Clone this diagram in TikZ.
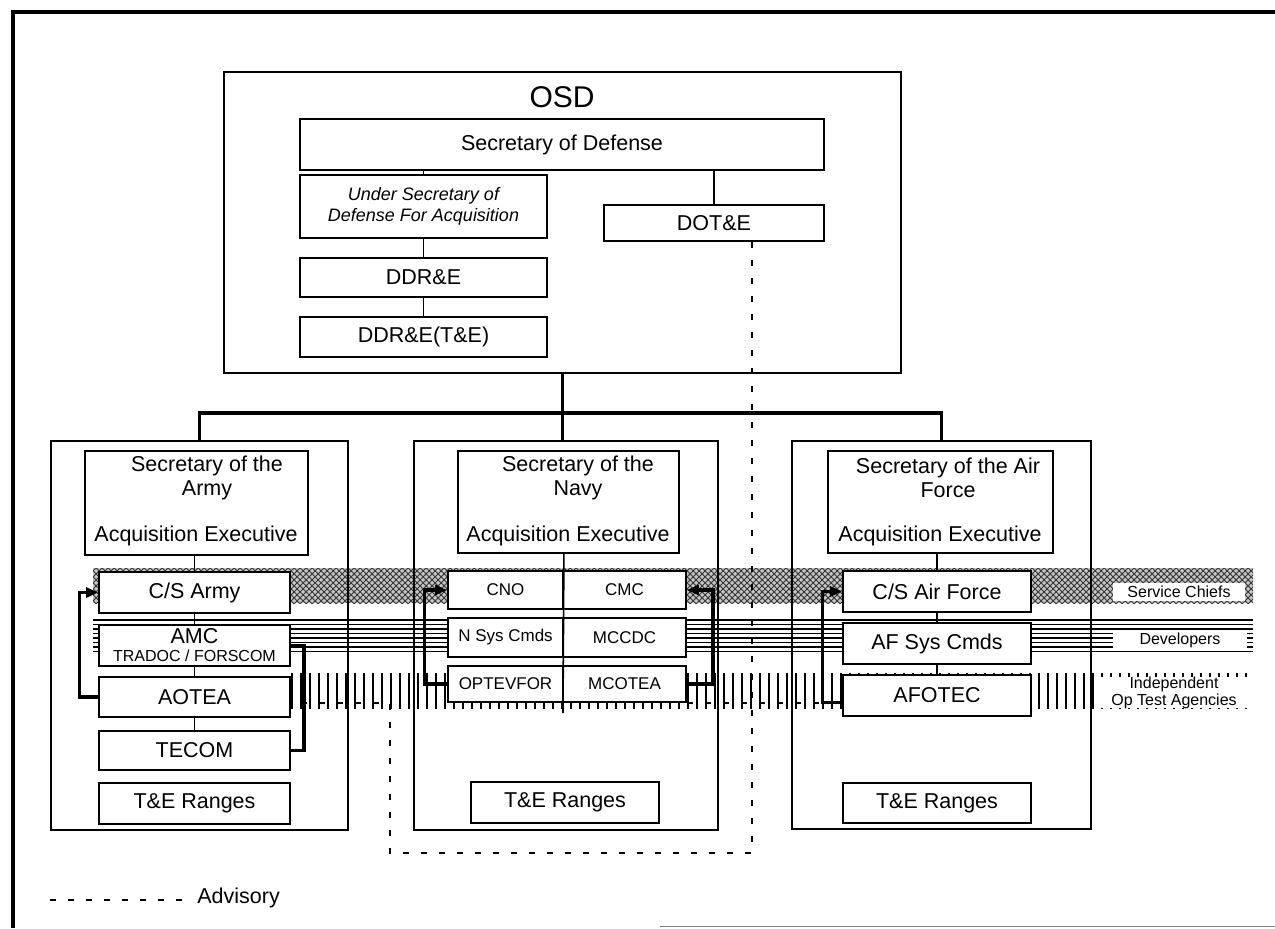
\documentclass[tikz,border=0pt]{standalone}
\usepackage{fontspec}
\setmainfont{Liberation Sans}
\usetikzlibrary{patterns,arrows.meta,calc}
\newcommand{\pbox}[7][]{\node[box,#1,minimum width={(#5-#3)*0.5pt},minimum height={(#6-#4)*0.5pt}] (#2) at ({(#3+#5)/2},{(#4+#6)/2}) {#7};}
\begin{document}
\begin{tikzpicture}[x=0.5pt,y=-0.5pt,
  box/.style={draw, line width=0.9pt, fill=white, inner sep=0pt, align=center, font=\fontsize{10.75}{13}\selectfont},
  nbox/.style={font=\fontsize{8.5}{10}\selectfont},
  col/.style={fill=none},
  txt/.style={inner sep=0pt, align=center, font=\fontsize{10.75}{12}\selectfont},
  bus/.style={line width=1.8pt},
  link/.style={line width=0.8pt},
  loopln/.style={line width=1.6pt},
  tip/.style={-{Triangle[length=6pt,width=5pt]}},
  adv/.style={line width=1.4pt, dash pattern=on 3pt off 6pt},
  lab/.style={fill=white, inner sep=0pt, align=center, font=\fontsize{8}{8.5}\selectfont}
]
\useasboundingbox (0,0) rectangle (1275,928);

% outer frame
\draw[line width=2pt] (13,928) -- (13,12) -- (1275,12);
\draw[line width=0.4pt, gray] (660,926) -- (1275,926);

% OSD
\pbox[col, line width=0.8pt]{osd}{224}{72}{901}{373}{}
\node[inner sep=0pt, font=\fontsize{15}{18}\selectfont] (osdt) at (562,97) {OSD};
\pbox{secdef}{300}{119}{824}{170}{Secretary of Defense}
\pbox[font=\fontsize{9}{10.5}\selectfont\itshape]{usd}{300}{175}{547}{238}{Under Secretary of\\Defense For Acquisition}
\pbox{dote}{604}{205}{824}{241}{DOT\&E}
\pbox{ddre}{300}{258}{547}{297}{DDR\&E}
\pbox{ddrete}{300}{317}{547}{357}{DDR\&E(T\&E)}
\draw[link] (secdef.south -| usd.north) -- (usd.north);
\draw[link] (secdef.south -| dote.north) -- (dote.north);
\draw[link] (usd) -- (ddre);
\draw[link] (ddre) -- (ddrete);

% bands
\fill[gray!45] (93,568) rectangle (1253,603);
\fill[pattern=crosshatch, pattern color=black!80] (93,568) rectangle (1253,603);
\foreach \j in {620,624.5,...,655} \draw[line width=0.7pt] (93,\j) -- (1253,\j);
\foreach \i in {292,301,...,1252} \draw[line width=1.1pt] (\i,673) -- (\i,709);
\node[lab, minimum width=66pt, minimum height=9pt] (lsc) at (1179,591.5) {Service Chiefs};
\node[lab, minimum width=67pt, minimum height=10pt] (ldev) at (1180,640) {Developers};
\node[lab, minimum width=74pt, minimum height=15.5pt] (liota) at (1174,692.5) {Independent\\Op Test Agencies};

% columns
\pbox[col, line width=0.8pt]{army}{51}{441}{348}{830}{}
\pbox[col, line width=0.8pt]{navy}{414}{441}{718}{830}{}
\pbox[col, line width=0.8pt]{af}{792}{441}{1091}{829}{}
\coordinate (bus) at (562.5,413);
\draw[bus] (osd.south) -- (osd.south |- navy.north);
\draw[bus] (army.north) |- (bus) -| (af.north);

% Army
\pbox{armyexec}{85}{451}{308}{555}{}
\node[txt] (armyt1) at (207,478) {Secretary of the\\Army};
\node[txt] (armyt2) at (196,536) {Acquisition Executive};
\pbox{csarmy}{99}{572}{290}{613}{C/S Army}
\pbox[font=\fontsize{10.75}{9}\selectfont]{amc}{99}{625}{290}{666}{AMC\\{\fontsize{8}{9}\selectfont TRADOC / FORSCOM}}
\pbox{aotea}{99}{677}{290}{717}{AOTEA}
\pbox{tecom}{99}{731}{290}{770}{TECOM}
\pbox{armyrng}{99}{783}{290}{824}{T\&E Ranges}
\draw[link] (armyexec.south -| csarmy.north) -- (csarmy.north);
\draw[link] (csarmy) -- (amc);
\draw[link] (amc) -- (aotea);
\draw[link] (aotea) -- (tecom);

% Navy
\pbox{navyexec}{458}{451}{679}{553}{}
\node[txt] (navyt1) at (578,478) {Secretary of the\\Navy};
\node[txt] (navyt2) at (568,536) {Acquisition Executive};
\pbox[nbox]{cno}{448}{571}{563}{609}{CNO}
\pbox[nbox]{cmc}{563}{571}{686}{609}{CMC}
\pbox[nbox]{nsys}{448}{618}{563}{657}{N Sys Cmds}
\pbox[nbox]{mccdc}{563}{618}{686}{657}{MCCDC}
\pbox[nbox]{optevfor}{448}{666}{563}{702}{OPTEVFOR}
\pbox[nbox]{mcotea}{563}{666}{686}{702}{MCOTEA}
\pbox{navyrng}{471}{782}{659}{823}{T\&E Ranges}
\coordinate (nend) at (563,713);
\draw[link] (navyexec.south -| cno.north east) -- (nend);

% Air Force
\pbox{afexec}{828}{451}{1053}{553}{}
\node[txt] (aft1) at (948,478) {Secretary of the Air\\Force};
\node[txt] (aft2) at (940,536) {Acquisition Executive};
\pbox{csaf}{843}{571}{1031}{612}{C/S Air Force}
\pbox{afsys}{843}{623}{1031}{664}{AF Sys Cmds}
\pbox{afotec}{843}{675}{1031}{716}{AFOTEC}
\pbox{afrng}{843}{783}{1031}{823}{T\&E Ranges}
\draw[link] (afexec.south -| csaf.north) -- (csaf.north);
\draw[link] (csaf) -- (afsys);
\draw[link] (afsys) -- (afotec);

% loops
\draw[loopln, tip] (aotea.west) -- ++(-19,0) |- (csarmy.west);
\draw[loopln] (tecom.east) -- ++(13,0) |- (amc.east);
\draw[loopln, tip] (optevfor.west) -- ++(-23,0) |- (cno.west);
\draw[loopln, tip] (mcotea.east) -- ++(26,0) |- (cmc.east);
\draw[loopln, tip] ([yshift=-3.5pt]afotec.west) -- ++(-20,0) |- (csaf.west);

% advisory
\coordinate (dA) at (752,853);
\coordinate (dB) at (390,853);
\coordinate (dC) at (390,703);
\draw[adv] ([xshift=19pt]dote.south) -- (dA) -- (dB) -- (dC) -- (dC -| aotea.east);
\draw[adv] (mcotea.south east) -- (mcotea.south east -| afotec.west);

% legend
\coordinate (lg1) at (50,900);
\coordinate (lg2) at (190,900);
\draw[adv] (lg1) -- (lg2);
\node[anchor=west, inner sep=0pt, font=\fontsize{10.75}{12}\selectfont] (advlab) at (197,898) {Advisory};
\end{tikzpicture}
\end{document}
